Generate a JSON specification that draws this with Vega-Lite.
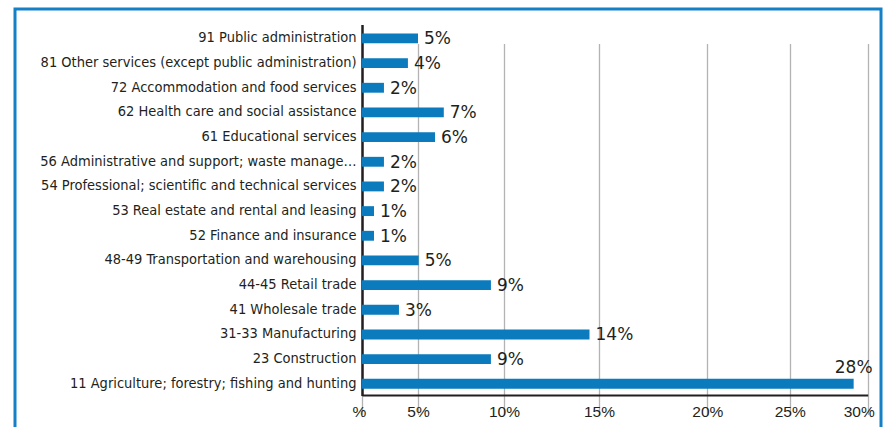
{
  "$schema": "https://vega.github.io/schema/vega-lite/v6.json",
  "width": 866,
  "height": 421,
  "autosize": {"type": "none"},
  "padding": {"left": 15, "top": 9, "right": 6, "bottom": -3},
  "background": "white",
  "config": {"view": {"stroke": "#1580c5", "strokeWidth": 3}},
  "data": {
    "values": [
      {"industry": "91 Public administration", "share": 5.0, "label": "5%"},
      {"industry": "81 Other services (except public administration)", "share": 4.1, "label": "4%"},
      {"industry": "72 Accommodation and food services", "share": 1.96, "label": "2%"},
      {"industry": "62 Health care and social assistance", "share": 6.5, "label": "7%"},
      {"industry": "61 Educational services", "share": 5.99, "label": "6%"},
      {"industry": "56 Administrative and support; waste manage…", "share": 1.96, "label": "2%"},
      {"industry": "54 Professional; scientific and technical services", "share": 1.96, "label": "2%"},
      {"industry": "53 Real estate and rental and leasing", "share": 1.07, "label": "1%"},
      {"industry": "52 Finance and insurance", "share": 1.07, "label": "1%"},
      {"industry": "48-49 Transportation and warehousing", "share": 5.04, "label": "5%"},
      {"industry": "44-45 Retail trade", "share": 9.24, "label": "9%"},
      {"industry": "41 Wholesale trade", "share": 3.3, "label": "3%"},
      {"industry": "31-33 Manufacturing", "share": 14.5, "label": "14%"},
      {"industry": "23 Construction", "share": 9.24, "label": "9%"},
      {"industry": "11 Agriculture; forestry; fishing and hunting", "share": 29.1, "label": "28%"}
    ]
  },
  "encoding": {
    "y": {
      "field": "industry",
      "type": "nominal",
      "sort": null,
      "scale": {"range": [15.5, 386.5], "paddingInner": 0.6, "paddingOuter": 0.32, "align": 0.57},
      "axis": {
        "title": null,
        "orient": "left",
        "offset": -347,
        "grid": false,
        "ticks": false,
        "domainColor": "#231f20",
        "domainWidth": 2.5,
        "labelFont": "DejaVu Sans Condensed, sans-serif",
        "labelFontSize": 14.5,
        "labelColor": "#231f20",
        "labelPadding": 6,
        "labelLimit": 500
      }
    },
    "x": {
      "field": "share",
      "type": "quantitative",
      "scale": {
        "domain": [0, 5, 10, 15, 20, 25, 30],
        "range": [347, 403, 489, 584, 692.3, 774.7, 852.7],
        "nice": false,
        "zero": false
      },
      "axis": {
        "title": null,
        "orient": "bottom",
        "offset": -35,
        "values": [0, 5, 10, 15, 20, 25, 30],
        "grid": true,
        "gridColor": "#b3b3b3",
        "gridWidth": 1.3,
        "ticks": false,
        "domainColor": "#231f20",
        "domainWidth": 2,
        "labelFlush": false,
        "labelExpr": "datum.value == 0 ? '%' : datum.value + '%'",
        "labelFont": "Liberation Sans",
        "labelFontSize": 15.5,
        "labelColor": "#231f20",
        "labelPadding": 9,
        "labelOffset": {"condition": [{"test": "datum.value == 30", "value": -9}, {"test": "datum.value == 0", "value": -3}], "value": 0}
      }
    }
  },
  "layer": [
    {"mark": {"type": "bar", "color": "#0b7bbd"}},
    {
      "transform": [{"filter": "datum.share < 20"}],
      "mark": {"type": "text", "align": "left", "baseline": "middle", "dx": 6, "dy": 1, "font": "DejaVu Sans", "fontSize": 17, "color": "#231f20"},
      "encoding": {"text": {"field": "label"}}
    },
    {
      "transform": [{"filter": "datum.share >= 20"}],
      "mark": {"type": "text", "align": "center", "baseline": "alphabetic", "dy": -11, "font": "DejaVu Sans", "fontSize": 17, "color": "#231f20"},
      "encoding": {"text": {"field": "label"}}
    }
  ]
}
